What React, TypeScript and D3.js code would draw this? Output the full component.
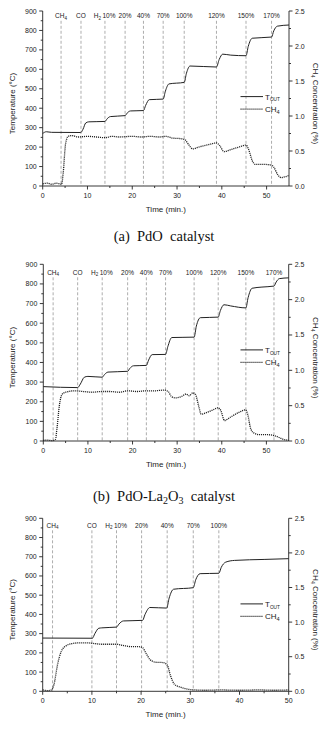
import React from "react";
import * as d3 from "d3";

type Pt = [number, number];

// Shared axis ticks
const tempTicks = [0, 100, 200, 300, 400, 500, 600, 700, 800, 900];
const concTicks = [0, 0.5, 1.0, 1.5, 2.0, 2.5];
const timeTicks = [0, 10, 20, 30, 40, 50];

// (a) PdO catalyst
const eventsA = [4.1, 8.55, 13.9, 18.4, 22.5, 26.9, 31.6, 38.8, 45.4, 51.1];
const eventLabelsA = ["CH4", "CO", "H2 10%", "20%", "40%", "70%", "100%", "120%", "150%", "170%"];
const toutA: Pt[] = [
  [0, 270], [0.8, 279], [2, 276], [8.5, 275], [9.0, 292], [9.6, 324], [10.3, 330], [13.9, 332],
  [14.4, 346], [15.1, 357], [18.4, 362], [18.9, 376], [19.6, 386], [22.5, 388], [23.0, 415],
  [23.8, 444], [26.9, 447], [27.4, 488], [28.2, 525], [31.6, 533], [32.1, 580], [32.9, 617],
  [38.8, 612], [39.4, 650], [40.2, 678], [42, 673], [45.4, 670], [45.9, 718], [46.8, 760],
  [51.1, 766], [51.6, 798], [52.4, 822], [55, 828],
];
const ch4A: Pt[] = [
  [0, 0.03], [1, 0.04], [2, 0.025], [3, 0.04], [4.2, 0.025], [4.6, 0.2], [5.1, 0.6], [5.7, 0.71],
  [6.5, 0.72], [8, 0.7], [10, 0.71], [12, 0.7], [14, 0.69], [15.5, 0.71], [17, 0.7], [20, 0.71],
  [22, 0.7], [24, 0.71], [26, 0.7], [27.5, 0.71], [29, 0.685], [31, 0.675], [31.8, 0.66],
  [32.6, 0.59], [33.5, 0.53], [35, 0.56], [37, 0.59], [38.8, 0.615], [39.5, 0.58], [40.5, 0.49],
  [42, 0.52], [44, 0.56], [45.4, 0.585], [46, 0.52], [46.8, 0.36], [47.5, 0.31], [49, 0.31],
  [51, 0.3], [51.6, 0.27], [52.5, 0.16], [53.3, 0.12], [54, 0.13], [55, 0.15],
];

// (b) PdO-La2O3 catalyst
const eventsB = [2.2, 7.7, 13.2, 18.9, 23.1, 27.4, 33.8, 39.2, 45.4, 51.7];
const eventLabelsB = ["CH4", "CO", "H2 10%", "20%", "40%", "70%", "100%", "120%", "150%", "170%"];
const toutB: Pt[] = [
  [0, 277], [7.7, 272], [8.3, 290], [9.2, 325], [10, 329], [13.2, 325], [13.7, 338], [14.5, 351],
  [18.9, 355], [19.4, 370], [20.2, 383], [23.1, 385], [23.6, 412], [24.4, 440], [27.4, 441],
  [27.9, 480], [28.8, 527], [33.8, 529], [34.3, 585], [35.2, 628], [39.2, 631], [39.7, 665],
  [40.5, 694], [42, 688], [45.4, 678], [45.9, 730], [46.8, 778], [49, 784], [51.7, 789],
  [52.2, 810], [52.9, 827], [55, 831],
];
const ch4B: Pt[] = [
  [0, 0.01], [1, 0.012], [2, 0.005], [2.7, 0.02], [3.1, 0.2], [3.6, 0.5], [4.2, 0.66], [5, 0.69],
  [7, 0.71], [9, 0.7], [11, 0.69], [13, 0.7], [15, 0.7], [17, 0.69], [19, 0.71], [21, 0.7],
  [23, 0.71], [25, 0.71], [27, 0.72], [28, 0.7], [28.7, 0.63], [29.5, 0.61], [31, 0.63],
  [32, 0.665], [32.7, 0.64], [33.5, 0.68], [34.1, 0.66], [34.8, 0.5], [35.4, 0.38], [36.5, 0.4],
  [38, 0.44], [39.2, 0.47], [39.8, 0.43], [40.6, 0.29], [42, 0.34], [44, 0.41], [45.3, 0.44],
  [45.8, 0.38], [46.5, 0.17], [47.3, 0.11], [48.5, 0.09], [50, 0.09], [51.5, 0.08], [52.5, 0.06],
  [53.5, 0.03], [55, 0.01],
];

// (c) third run
const eventsC = [2.0, 10.0, 15.0, 20.1, 25.3, 30.6, 35.8];
const eventLabelsC = ["CH4", "CO", "H2 10%", "20%", "40%", "70%", "100%"];
const toutC: Pt[] = [
  [0, 277], [10.1, 276], [10.6, 300], [11.4, 328], [12, 330], [15, 334], [15.5, 350], [16.4, 366],
  [20.3, 369], [20.8, 400], [21.8, 436], [25.2, 433], [25.7, 485], [26.6, 531], [30.6, 539],
  [31.1, 580], [32, 612], [35.8, 614], [36.3, 645], [37.2, 672], [39, 681], [45, 686], [50, 690],
];
const ch4C: Pt[] = [
  [0, 0.02], [1, 0.01], [1.8, 0.02], [2.3, 0.1], [3, 0.38], [3.8, 0.58], [4.8, 0.66], [6, 0.69],
  [7.5, 0.7], [9, 0.7], [10.5, 0.69], [12, 0.68], [13.5, 0.68], [15, 0.68], [16.5, 0.66],
  [18, 0.645], [19.5, 0.645], [20.3, 0.63], [21, 0.55], [21.8, 0.46], [23, 0.42], [24.5, 0.415],
  [25.3, 0.38], [26, 0.22], [26.8, 0.1], [28, 0.06], [29.5, 0.03], [31, 0.02], [33, 0.015],
  [36, 0.02], [40, 0.015], [44, 0.02], [47, 0.015], [50, 0.02],
];

const SANS = "Liberation Sans, Arial, sans-serif";
const SERIF = "Liberation Serif, Times New Roman, serif";
const INK = "#222";

function fmtConc(v: number) {
  return v.toFixed(1);
}

// Text with an optional trailing digit rendered as a subscript (CH4, H2)
function Chem({ label, size }: { label: string; size: number }) {
  const m = label.match(/^([A-Za-z]+)(\d)$/);
  if (!m) return <>{label}</>;
  return (
    <>
      {m[1]}
      <tspan fontSize={size * 0.7} dy={size * 0.25}>{m[2]}</tspan>
    </>
  );
}

type PanelProps = {
  top: number;
  bottom: number;
  left: number;
  right: number;
  xMax: number;
  events: number[];
  eventLabels: string[];
  tout: Pt[];
  ch4: Pt[];
  labelY: number;
  caption?: React.ReactNode;
  captionY?: number;
};

function Panel(p: PanelProps) {
  const x = d3.scaleLinear().domain([0, p.xMax]).range([p.left, p.right]);
  const yT = d3.scaleLinear().domain([0, 900]).range([p.bottom, p.top]);
  const yC = d3.scaleLinear().domain([0, 2.5]).range([p.bottom, p.top]);

  const tLine = d3
    .line<Pt>()
    .x((d) => x(d[0]))
    .y((d) => yT(d[1]))
    .curve(d3.curveMonotoneX);
  const cLine = d3
    .line<Pt>()
    .x((d) => x(d[0]))
    .y((d) => yC(d[1]))
    .curve(d3.curveMonotoneX);

  const minorT = d3.range(50, 900, 100);
  const minorC = d3.range(0.25, 2.5, 0.5);
  const minorX = d3.range(5, p.xMax, 10);

  const midY = (p.top + p.bottom) / 2 + 5;
  const midX = (p.left + p.right) / 2;
  const legY = p.top + 85.6;
  const lineTop = p.labelY + 2.5;

  return (
    <g>
      {/* event markers */}
      {p.events.map((e, i) => (
        <line
          key={"ev" + i}
          x1={x(e)}
          x2={x(e)}
          y1={lineTop}
          y2={p.bottom}
          stroke="#8a8a8a"
          strokeWidth={0.7}
          strokeDasharray="3,2"
        />
      ))}
      {p.events.map((e, i) => {
        const lab = p.eventLabels[i];
        if (lab.startsWith("H2 ")) {
          return (
            <g key={"el" + i} fontFamily={SANS} fontSize={6.5} fill={INK}>
              <text x={x(e) - 4} y={p.labelY} textAnchor="end">
                <Chem label="H2" size={6.5} />
              </text>
              <text x={x(e) + 4} y={p.labelY} textAnchor="middle">
                {lab.slice(3)}
              </text>
            </g>
          );
        }
        return (
          <text
            key={"el" + i}
            x={x(e)}
            y={p.labelY}
            textAnchor="middle"
            fontFamily={SANS}
            fontSize={6.5}
            fill={INK}
          >
            <Chem label={lab} size={6.5} />
          </text>
        );
      })}

      {/* series */}
      <path d={tLine(p.tout) || ""} fill="none" stroke={INK} strokeWidth={1} />
      <path
        d={cLine(p.ch4) || ""}
        fill="none"
        stroke={INK}
        strokeWidth={1.3}
        strokeDasharray="1.1,0.9"
      />

      {/* axes */}
      <g stroke={INK} strokeWidth={0.9}>
        <line x1={p.left} x2={p.left} y1={p.top} y2={p.bottom} />
        <line x1={p.right} x2={p.right} y1={p.top} y2={p.bottom} />
        <line x1={p.left} x2={p.right} y1={p.bottom} y2={p.bottom} />
        {tempTicks.map((t) => (
          <line key={"tt" + t} x1={p.left - 3.5} x2={p.left} y1={yT(t)} y2={yT(t)} />
        ))}
        {minorT.map((t) => (
          <line key={"mt" + t} x1={p.left - 2} x2={p.left} y1={yT(t)} y2={yT(t)} />
        ))}
        {concTicks.map((c) => (
          <line key={"ct" + c} x1={p.right} x2={p.right + 3.5} y1={yC(c)} y2={yC(c)} />
        ))}
        {minorC.map((c) => (
          <line key={"mc" + c} x1={p.right} x2={p.right + 2} y1={yC(c)} y2={yC(c)} />
        ))}
        {timeTicks.map((t) => (
          <line key={"xt" + t} x1={x(t)} x2={x(t)} y1={p.bottom} y2={p.bottom + 3.5} />
        ))}
        {minorX.map((t) => (
          <line key={"mx" + t} x1={x(t)} x2={x(t)} y1={p.bottom} y2={p.bottom + 2} />
        ))}
      </g>

      <g fontFamily={SANS} fontSize={7} fill={INK}>
        {tempTicks.map((t) => (
          <text key={"tl" + t} x={p.left - 6} y={yT(t) + 2.5} textAnchor="end">
            {t}
          </text>
        ))}
        {concTicks.map((c) => (
          <text key={"cl" + c} x={p.right + 6} y={yC(c) + 2.5} textAnchor="start">
            {fmtConc(c)}
          </text>
        ))}
        {timeTicks.map((t) => (
          <text key={"xl" + t} x={x(t)} y={p.bottom + 11.5} textAnchor="middle">
            {t}
          </text>
        ))}
      </g>

      {/* axis titles */}
      <g fontFamily={SANS} fontSize={8} fill={INK}>
        <text x={midX} y={p.bottom + 25.5} textAnchor="middle">
          Time (min.)
        </text>
        <text transform={`translate(14.5,${midY}) rotate(-90)`} textAnchor="middle">
          Temperature (°C)
        </text>
        <text transform={`translate(312.5,${midY}) rotate(90)`} textAnchor="middle">
          CH<tspan fontSize={5.6} dy={2}>4</tspan>
          <tspan dy={-2}> Concentration (%)</tspan>
        </text>
      </g>

      {/* legend */}
      <g>
        <line x1={240.5} x2={263} y1={legY} y2={legY} stroke={INK} strokeWidth={1} />
        <line
          x1={240.5}
          x2={263}
          y1={legY + 12.5}
          y2={legY + 12.5}
          stroke={INK}
          strokeWidth={1.3}
          strokeDasharray="1.1,0.9"
        />
        <text x={265} y={legY + 3} fontFamily={SANS} fontSize={8} fill={INK}>
          T<tspan fontSize={4.8} dy={1.8}>OUT</tspan>
        </text>
        <text x={265} y={legY + 15.5} fontFamily={SANS} fontSize={8} fill={INK}>
          <Chem label="CH4" size={8} />
        </text>
      </g>

      {p.caption && (
        <text
          x={164}
          y={p.captionY}
          textAnchor="middle"
          fontFamily={SERIF}
          fontSize={14.5}
          fill="#111"
          style={{ whiteSpace: "pre" }}
        >
          {p.caption}
        </text>
      )}
    </g>
  );
}

export default function App() {
  return (
    <svg
      width={323}
      height={734}
      viewBox="0 0 323 734"
      style={{ position: "absolute", left: 0, top: 0, background: "#fff" }}
    >
      <rect width={323} height={734} fill="#fff" />
      <Panel
        top={11}
        bottom={186}
        left={42.7}
        right={289}
        xMax={55}
        events={eventsA}
        eventLabels={eventLabelsA}
        tout={toutA}
        ch4={ch4A}
        labelY={18.3}
        caption={"(a)  PdO  catalyst"}
        captionY={241}
      />
      <Panel
        top={264.3}
        bottom={441}
        left={43.3}
        right={288.7}
        xMax={55}
        events={eventsB}
        eventLabels={eventLabelsB}
        tout={toutB}
        ch4={ch4B}
        labelY={274.8}
        caption={
          <>
            {"(b)  PdO-La"}
            <tspan fontSize={10} dy={3}>2</tspan>
            <tspan dy={-3}>O</tspan>
            <tspan fontSize={10} dy={3}>3</tspan>
            <tspan dy={-3}>{"  catalyst"}</tspan>
          </>
        }
        captionY={501}
      />
      <Panel
        top={518.3}
        bottom={691.3}
        left={42.7}
        right={288.7}
        xMax={50}
        events={eventsC}
        eventLabels={eventLabelsC}
        tout={toutC}
        ch4={ch4C}
        labelY={527.8}
      />
    </svg>
  );
}
